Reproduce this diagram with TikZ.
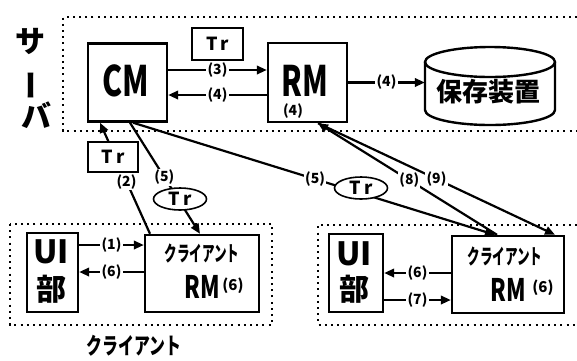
\documentclass[tikz,border=0pt]{standalone}
\usepackage{fontspec}
\usepackage{graphicx}
\setmainfont{Noto Sans CJK JP}
\usetikzlibrary{arrows.meta,shapes.geometric}
\newcommand\lblfont{\fontsize{14}{14}\selectfont\bfseries}
\newcommand\trfont{\fontsize{18}{18}\selectfont\bfseries}
\newcommand\bigfnt[1]{\fontsize{#1}{#1}\selectfont\bfseries}
\begin{document}
\begin{tikzpicture}[x=1pt,y=-1pt,
  box/.style={draw, line width=2.4pt, inner sep=0pt},
  trbox/.style={draw, line width=1.6pt, fill=white, inner sep=0pt},
  trell/.style={draw, ellipse, line width=1.6pt, fill=white, inner sep=0pt, minimum width=53pt, minimum height=22pt},
  lbl/.style={fill=white, inner sep=1.2pt, font=\lblfont},
  txt/.style={inner sep=0pt},
  conn/.style={line width=2.2pt},
  arr/.style={conn, -{Triangle[length=10pt,width=8.5pt]}},
  dots/.style={line width=2pt, dash pattern=on 2pt off 4.2pt}
]
\useasboundingbox (0,0) rectangle (577,360);

% dotted frames
\draw[dots] (577,17) -- (63,17) -- (63,131) -- (577,131);
\draw[dots] (10,224) rectangle (272,325);
\draw[dots] (577,225) -- (318,225) -- (318,325) -- (577,325);

% server label
\node[txt] (sv1) at (31,41) {\bigfnt{30}サ};
\node[txt, rotate=90] (sv2) at (35,85) {\bigfnt{30}ー};
\node[txt] (sv3) at (36,115) {\bigfnt{30}バ};

% server nodes
\node[box, minimum width=79pt, minimum height=78pt] (cm) at (127.5,82.5) {};
\node[txt] (cmt) at (126,81) {\scalebox{0.72}[1]{\bigfnt{42}CM}};
\node[box, minimum width=79pt, minimum height=79pt] (rm) at (307.5,82.5) {};
\node[txt] (rmt) at (305,81) {\scalebox{0.7}[1]{\bigfnt{42}RM}};
\node[txt] (rm4) at (293,111) {\lblfont (4)};

% storage cylinder
\node[minimum width=130pt, minimum height=78pt, inner sep=0pt] (store) at (490,86) {};
\draw[line width=2.4pt] (490,62) ellipse [x radius=65pt, y radius=15pt];
\draw[line width=2.4pt] (425,62) -- (425,110) arc[start angle=180, end angle=360, x radius=65pt, y radius=15pt] -- (555,62);
\node[txt] (storet) at (488,92) {\bigfnt{26}保存装置};

% client 1
\node[box, minimum width=51pt, minimum height=79pt] (ui1) at (52.5,272.5) {};
\node[txt] (ui1a) at (51,252) {\bigfnt{32}UI};
\node[txt] (ui1b) at (51,289) {\bigfnt{30}部};
\node[box, minimum width=114pt, minimum height=77pt] (crm1) at (202,273.5) {};
\node[txt] (crm1a) at (202,253) {\scalebox{0.6}[1]{\bigfnt{21}クライアント}};
\node[txt] (crm1b) at (202,287) {\scalebox{0.72}[1]{\bigfnt{31}RM}};
\node[txt] (crm1c) at (233,286) {\bigfnt{15}(6)};
\node[txt] (cl1) at (134,346) {\scalebox{0.69}[1]{\bigfnt{23}クライアント}};

% client 2
\node[box, minimum width=54pt, minimum height=78pt] (ui2) at (356,273) {};
\node[txt] (ui2a) at (354,254) {\bigfnt{32}UI};
\node[txt] (ui2b) at (354,289) {\bigfnt{30}部};
\node[box, minimum width=112pt, minimum height=77pt] (crm2) at (508,274.5) {};
\node[txt] (crm2a) at (505,256) {\scalebox{0.6}[1]{\bigfnt{21}クライアント}};
\node[txt] (crm2b) at (508,290) {\scalebox{0.72}[1]{\bigfnt{31}RM}};
\node[txt] (crm2c) at (543,288) {\bigfnt{15}(6)};

% horizontal arrows
\draw[arr] ([yshift=12.5pt]cm.east) -- ([yshift=12.5pt]rm.west) node[lbl, midway] (l3) {(3)};
\draw[arr] ([yshift=-12.5pt]rm.west) -- ([yshift=-12.5pt]cm.east) node[lbl, midway] (l4a) {(4)};
\draw[arr] (rm.east) -- (rm.east -| store.west) node[lbl, midway] (l4b) {(4)};

\draw[arr] ([yshift=27.5pt]ui1.east) -- ([yshift=28.5pt]crm1.west) node[lbl, midway] (l1) {(1)};
\draw[arr] ([yshift=1.5pt]crm1.west) -- ([yshift=0.5pt]ui1.east) node[lbl, midway] (l6a) {(6)};
\draw[arr] ([yshift=1.5pt]crm2.west) -- (ui2.east) node[lbl, midway] (l6b) {(6)};
\draw[arr] ([yshift=-27pt]ui2.east) -- ([yshift=-25.5pt]crm2.west) node[lbl, midway] (l7) {(7)};

% diagonal connectors
\draw[arr] ([xshift=-52pt]crm1.north) -- ([xshift=-27.5pt]cm.south) node[lbl, pos=0.47] (l2) {(2)};
\draw[arr] ([xshift=2.5pt]cm.south) -- ([xshift=-2pt]crm1.north) node[lbl, pos=0.49] (l5a) {(5)};
\draw[arr] ([xshift=5.5pt]cm.south) -- ([xshift=-13pt]crm2.north) node[lbl, pos=0.503] (l5b) {(5)};
\draw[arr] ([xshift=-11pt]crm2.north) -- ([xshift=10.5pt]rm.south) node[lbl, pos=0.49] (l8) {(8)};
\draw[arr] ([xshift=10.5pt]rm.south) -- ([xshift=47pt]crm2.north) node[lbl, pos=0.5] (l9) {(9)};

% transaction markers
\node[trbox, minimum width=51pt, minimum height=32pt] (tr1) at (217.5,44) {\trfont T\,r};
\node[trbox, minimum width=50pt, minimum height=30pt] (tr2) at (113,157) {\trfont T\,r};
\node[trell] (tr3) at (180,199) {\trfont T\,r};
\node[trell] (tr4) at (361,188) {\trfont T\,r};
\end{tikzpicture}
\end{document}
